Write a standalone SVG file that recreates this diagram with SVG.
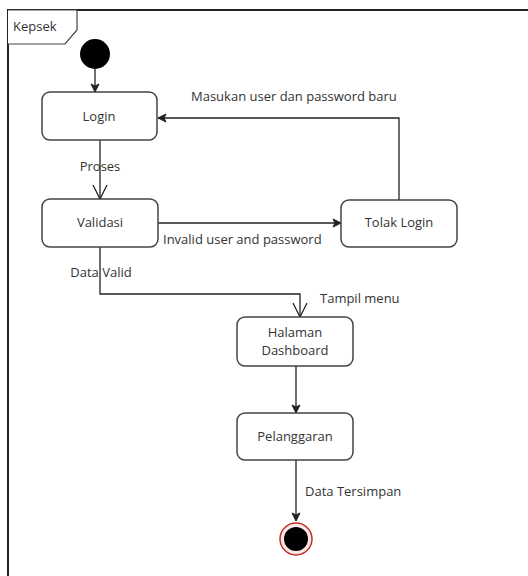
<svg xmlns="http://www.w3.org/2000/svg" width="528" height="576" viewBox="0 0 528 576">
<defs>
<marker id="fill" markerWidth="10" markerHeight="10" refX="9" refY="5" orient="auto" markerUnits="userSpaceOnUse">
<path d="M1,1 L9,5 L1,9 L3,5 Z" fill="#222" stroke="#222" stroke-width="1"/>
</marker>
<marker id="open" markerWidth="16" markerHeight="16" refX="15" refY="8" orient="auto" markerUnits="userSpaceOnUse">
<path d="M1,1 L15,8 L1,15" fill="none" stroke="#222" stroke-width="1.3"/>
</marker>
</defs>
<style>
.box{fill:#fff;stroke:#444;stroke-width:1.5}
.t{font-family:"Open Sans","Liberation Sans",Arial,sans-serif;font-size:13px;fill:#333}
.c{text-anchor:middle}
.ln{fill:none;stroke:#222;stroke-width:1.3}
</style>
<rect width="528" height="576" fill="#fff"/>
<g id="frame">
<path d="M8,576 L8,10 L528,10" fill="none" stroke="#222" stroke-width="2"/>
<path d="M8,10 L77,10 L77,30 L65,44 L8,44" fill="#fff" stroke="#444" stroke-width="1.2"/>
<text class="t" x="13" y="31">Kepsek</text>
</g>
<g id="connectors">
<path class="ln" d="M95,69 L95,92" marker-end="url(#fill)"/>
<path class="ln" d="M100,140 L100,199" marker-end="url(#open)"/>
<path class="ln" d="M158,223 L341,223" marker-end="url(#fill)"/>
<path class="ln" d="M399,200 L399,118 L158,118" marker-end="url(#fill)"/>
<path class="ln" d="M100,247 L100,294 L300,294 L300,317" marker-end="url(#open)"/>
<path class="ln" d="M296,366 L296,413" marker-end="url(#fill)"/>
<path class="ln" d="M296,460 L296,521" marker-end="url(#fill)"/>
<text class="t c" x="100" y="171">Proses</text>
<text class="t" x="163" y="244">Invalid user and password</text>
<text class="t" x="191" y="101">Masukan user dan password baru</text>
<text class="t c" x="101" y="277">Data Valid</text>
<text class="t" x="320" y="303">Tampil menu</text>
<text class="t" x="305" y="496">Data Tersimpan</text>
</g>
<g id="start"><circle cx="95" cy="54" r="15" fill="#000"/></g>
<g id="login"><rect class="box" x="42" y="92" width="115" height="48" rx="8"/><text class="t c" x="99" y="121">Login</text></g>
<g id="validasi"><rect class="box" x="42" y="199" width="116" height="48" rx="8"/><text class="t c" x="100" y="227">Validasi</text></g>
<g id="tolak"><rect class="box" x="341" y="200" width="116" height="47" rx="8"/><text class="t c" x="399" y="227">Tolak Login</text></g>
<g id="dashboard"><rect class="box" x="237" y="317" width="116" height="49" rx="8"/><text class="t c" x="295" y="337">Halaman</text><text class="t c" x="295" y="355">Dashboard</text></g>
<g id="pelanggaran"><rect class="box" x="237" y="413" width="116" height="47" rx="8"/><text class="t c" x="295" y="441">Pelanggaran</text></g>
<g id="end"><circle cx="296" cy="539" r="16" fill="#fde8e8" stroke="#c0302a" stroke-width="1.5"/><circle cx="296" cy="539" r="12" fill="#000"/></g>
</svg>
